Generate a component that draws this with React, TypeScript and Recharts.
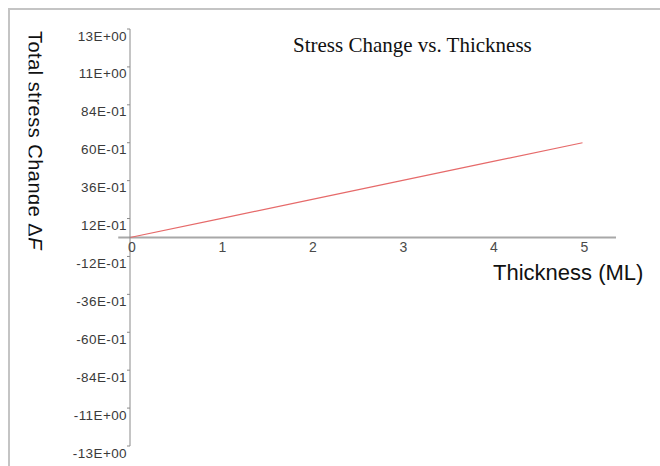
import { LineChart, Line, XAxis, YAxis, ReferenceLine, ReferenceDot } from 'recharts'

const thickness = [0, 1, 2, 3, 4, 5]
const stress = [0, 1.2, 2.4, 3.6, 4.8, 6.0]

const yTicks = [13.2, 10.8, 8.4, 6.0, 3.6, 1.2, -1.2, -3.6, -6.0, -8.4, -10.8, -13.2]
const yTickLabels = [
  '13E+00', '11E+00', '84E-01', '60E-01', '36E-01', '12E-01',
  '-12E-01', '-36E-01', '-60E-01', '-84E-01', '-11E+00', '-13E+00',
]
const xTicks = [0, 1, 2, 3, 4, 5]

const data = thickness.map((t, i) => ({ x: t, y: stress[i] }))

const YTick = (props: any) => {
  const { x, y, payload } = props
  const i = yTicks.indexOf(payload.value)
  return (
    <text
      x={x}
      y={y + 7}
      textAnchor="end"
      dominantBaseline="central"
      fontSize={13.5}
      fill="#3a3a3a"
      fontFamily="Arial, Liberation Sans, sans-serif"
      letterSpacing={0.4}
    >
      {yTickLabels[i]}
    </text>
  )
}

export default function App() {
  return (
    <div
      style={{
        position: 'fixed',
        left: 0,
        top: 0,
        width: 660,
        height: 466,
        background: '#fff',
        fontFamily: 'Arial, Liberation Sans, sans-serif',
      }}
    >
      <div
        style={{
          position: 'absolute',
          left: 8,
          top: 8,
          right: 0,
          bottom: 0,
          borderTop: '2px solid #c4c4c4',
          borderLeft: '2px solid #c4c4c4',
        }}
      />
      <LineChart
        width={660}
        height={466}
        data={data}
        margin={{ top: 29, right: 44, bottom: 20, left: 0 }}
        style={{ position: 'absolute', left: 0, top: 0 }}
      >
        <XAxis type="number" dataKey="x" domain={[0, 5.37]} hide />
        <YAxis
          type="number"
          width={130}
          domain={[-13.2, 13.2]}
          ticks={yTicks}
          interval={0}
          axisLine={{ stroke: '#8a8a8a' }}
          tickLine={{ stroke: '#8a8a8a' }}
          tickSize={3}
          tickMargin={0}
          tick={<YTick />}
        />
        <ReferenceLine
          segment={[{ x: -0.13, y: 0 }, { x: 5.37, y: 0 }]}
          stroke="#a8a8a8"
          strokeWidth={2}
          ifOverflow="visible"
        />
        {xTicks.map((t) => (
          <ReferenceDot
            key={t}
            x={t}
            y={0}
            r={0}
            fill="none"
            stroke="none"
            label={{
              value: String(t),
              position: 'bottom',
              offset: 5,
              fill: '#4a4a4a',
              fontSize: 14,
              dx: 2,
            }}
          />
        ))}
        <Line
          type="linear"
          dataKey="y"
          stroke="#e66a6a"
          strokeWidth={1.2}
          dot={false}
          isAnimationActive={false}
        />
      </LineChart>
      <svg
        width={660}
        height={466}
        style={{ position: 'absolute', left: 0, top: 0, pointerEvents: 'none' }}
      >
        <defs>
          <clipPath id="ylab">
            <rect x={28.5} y={0} width={40} height={466} />
          </clipPath>
        </defs>
        <g clipPath="url(#ylab)">
          <text
            transform="translate(28, 31) rotate(90)"
            fontSize={20}
            fill="#111"
            fontFamily="Arial, Liberation Sans, sans-serif"
            letterSpacing={0.5}
          >
            Total stress Change Δ<tspan fontStyle="italic">F</tspan>
          </text>
        </g>
        <text
          x={293}
          y={52}
          fontSize={21}
          fill="#111"
          fontFamily="Times New Roman, Liberation Serif, serif"
        >
          Stress Change vs. Thickness
        </text>
        <text
          x={493}
          y={280}
          fontSize={22}
          fill="#111"
          fontFamily="Arial, Liberation Sans, sans-serif"
        >
          Thickness (ML)
        </text>
      </svg>
    </div>
  )
}
